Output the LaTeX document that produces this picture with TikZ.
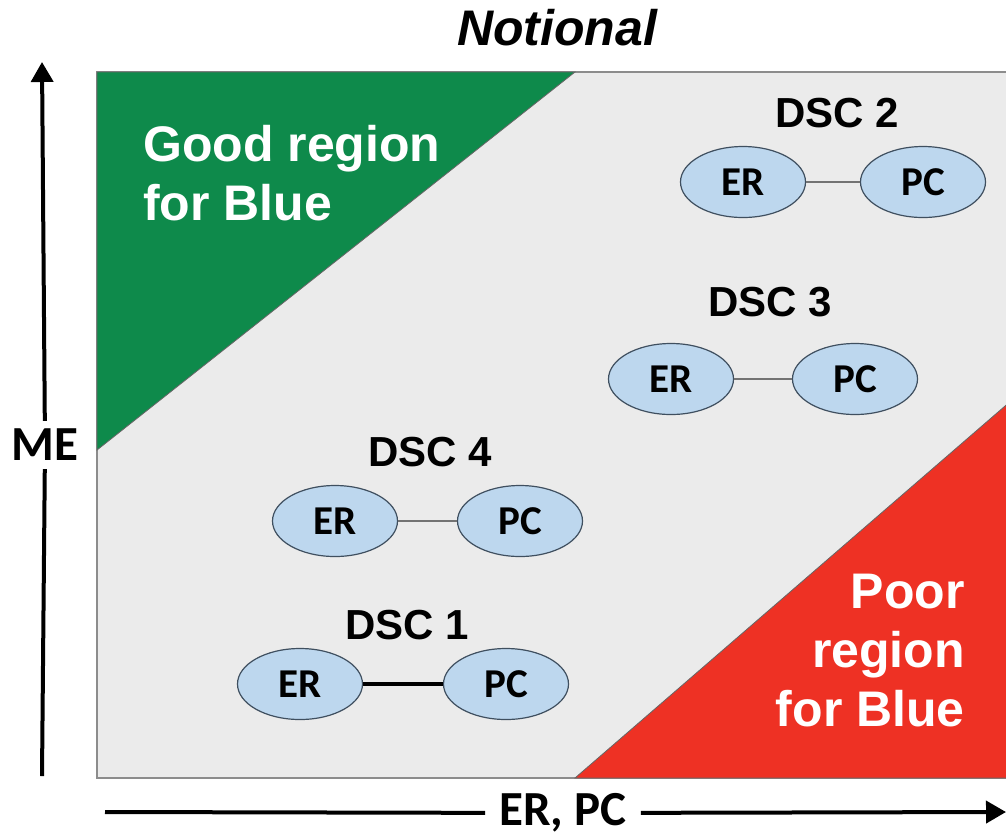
\documentclass[tikz,border=0pt]{standalone}
\usepackage{fontspec}
\setmainfont{Liberation Sans}
\newfontfamily\calibri{Carlito}
\usetikzlibrary{arrows.meta,shapes.geometric}
\definecolor{goodgreen}{HTML}{0E8A4B}
\definecolor{poorred}{HTML}{EE3124}
\definecolor{plotgray}{HTML}{EBEBEB}
\definecolor{ellblue}{HTML}{BDD7EE}
\definecolor{ellline}{HTML}{3F4F5F}
\tikzset{
  dscell/.style={ellipse, draw=ellline, fill=ellblue, line width=1.2pt,
    minimum width=125pt, minimum height=71pt, inner sep=0pt,
    font=\calibri\bfseries\fontsize{41}{44}\selectfont},
  dsclabel/.style={font=\bfseries\fontsize{42}{46}\selectfont, inner sep=0pt},
  regionlabel/.style={text=white, inner sep=0pt,
    font=\bfseries\fontsize{50}{59}\selectfont},
  axislabel/.style={font=\calibri\bfseries\fontsize{49}{52}\selectfont, inner sep=8pt},
  axisarrow/.style={line width=4pt, -{Triangle[length=20pt,width=22pt]}},
  link/.style={draw=black!55, line width=1.2pt}
}
\begin{document}
\begin{tikzpicture}[x=1pt,y=-1pt]
\useasboundingbox (0,0) rectangle (1006,839);

% plot area
\filldraw[fill=plotgray, draw=black!45, line width=2pt] (97,72) rectangle (1012,778);
\filldraw[fill=goodgreen, draw=black!60, line width=0.8pt] (97,72) -- (575,72) -- (97,450) -- cycle;
\filldraw[fill=poorred, draw=black!60, line width=0.8pt] (575,778) -- (1012,778) -- (1012,400) -- cycle;

\node (title) at (557,28) {\bfseries\itshape\fontsize{50}{54}\selectfont Notional};

\node[regionlabel, align=left, anchor=west] (good) at (143,173) {Good region\\for Blue};
\node[regionlabel, align=right, anchor=east] (poor) at (965,651) {Poor\\region\\for Blue};

% axes
\node[axislabel, inner xsep=0pt] (me) at (45,445) {ME};
\coordinate (ybot) at (42,776);
\coordinate (ytop) at (42,62);
\draw[line width=4pt] (ybot) -- (me);
\draw[axisarrow] (me) -- (ytop);

\node[axislabel, inner xsep=14pt] (erpc) at (563,813) {ER, PC};
\coordinate (xleft) at (105,812);
\coordinate (xright) at (1006,812);
\draw[line width=4pt] (xleft) -- (erpc);
\draw[axisarrow] (erpc) -- (xright);

% DSC 2
\node[dsclabel] (dsc2) at (837,113) {DSC 2};
\node[dscell] (er2) at (743,182) {ER};
\node[dscell] (pc2) at (923,182) {PC};
\path [link] (er2) edge (pc2);

% DSC 3
\node[dsclabel] (dsc3) at (770,302) {DSC 3};
\node[dscell] (er3) at (671,379) {ER};
\node[dscell] (pc3) at (855,379) {PC};
\path [link] (er3) edge (pc3);

% DSC 4
\node[dsclabel] (dsc4) at (430,452) {DSC 4};
\node[dscell] (er4) at (335,521) {ER};
\node[dscell] (pc4) at (520,521) {PC};
\path [link] (er4) edge (pc4);

% DSC 1
\node[dsclabel] (dsc1) at (407,625) {DSC 1};
\node[dscell] (er1) at (300,684) {ER};
\node[dscell] (pc1) at (506,684) {PC};
\path [link, draw=black, line width=3.5pt] (er1) edge (pc1);
\end{tikzpicture}
\end{document}
